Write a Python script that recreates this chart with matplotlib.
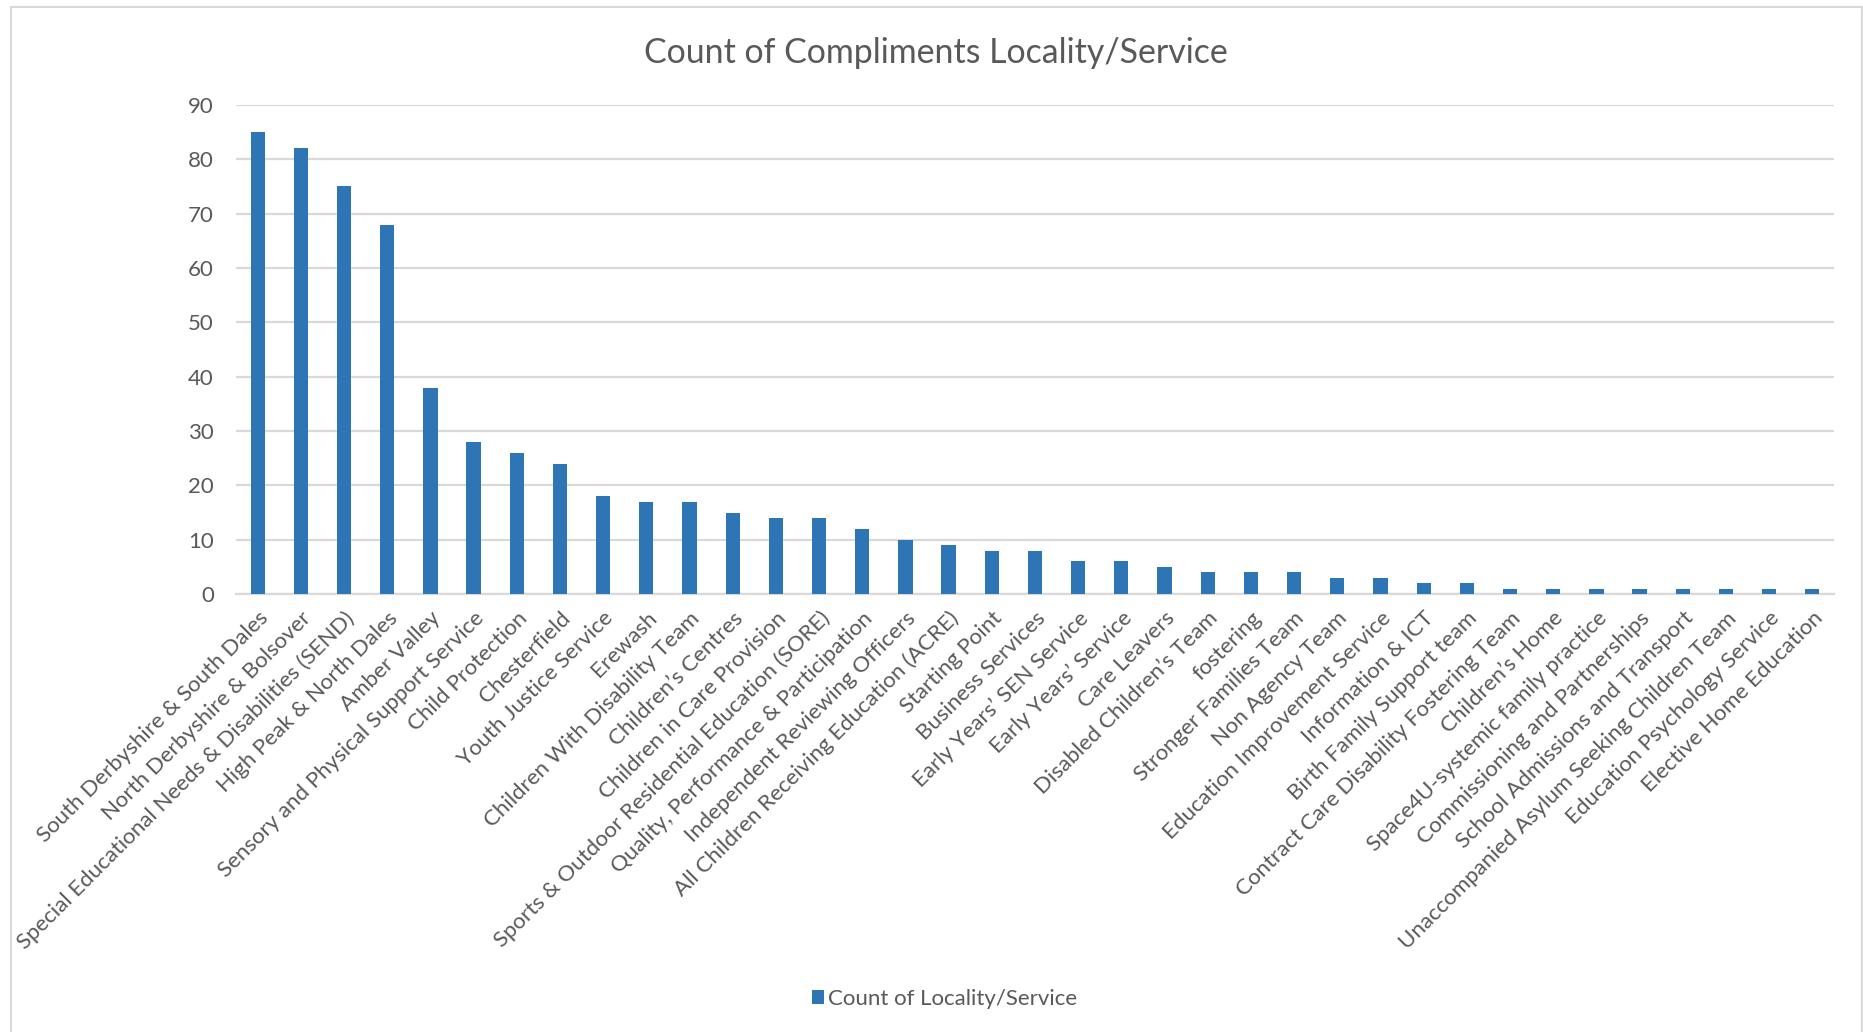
import matplotlib
matplotlib.use("Agg")
import matplotlib.pyplot as plt
from matplotlib.patches import Rectangle

# Compliment counts per locality / service
services = [
    "South Derbyshire & South Dales",
    "North Derbyshire & Bolsover",
    "Special Educational Needs & Disabilities (SEND)",
    "High Peak & North Dales",
    "Amber Valley",
    "Sensory and Physical Support Service",
    "Child Protection",
    "Chesterfield",
    "Youth Justice Service",
    "Erewash",
    "Children With Disability Team",
    "Children\u2019s Centres",
    "Children in Care Provision",
    "Sports & Outdoor Residential Education (SORE)",
    "Quality, Performance & Participation",
    "Independent Reviewing Officers",
    "All Children Receiving Education (ACRE)",
    "Starting Point",
    "Business Services",
    "Early Years\u2019 SEN Service",
    "Early Years\u2019 Service",
    "Care Leavers",
    "Disabled Children\u2019s Team",
    "fostering",
    "Stronger Families Team",
    "Non Agency Team",
    "Education Improvement Service",
    "Information & ICT",
    "Birth Family Support team",
    "Contract Care Disability Fostering Team",
    "Children\u2019s Home",
    "Space4U-systemic family practice",
    "Commissioning and Partnerships",
    "School Admissions and Transport",
    "Unaccompanied Asylum Seeking Children Team",
    "Education Psychology Service",
    "Elective Home Education",
]
counts = [85, 82, 75, 68, 38, 28, 26, 24, 18, 17, 17, 15, 14, 14, 12, 10, 9,
          8, 8, 6, 6, 5, 4, 4, 4, 3, 3, 2, 2, 1, 1, 1, 1, 1, 1, 1, 1]
yticks = list(range(0, 100, 10))

plt.rcParams['font.family'] = ['Lato', 'DejaVu Sans']
grey = '#595959'
bar_blue = '#2E75B6'
grid_grey = '#D9D9D9'

fig = plt.figure(figsize=(18.63, 10.32), dpi=100)
ax = fig.add_axes([0.1267, 0.4244, 0.8577, 0.4739])

x = range(len(services))
ax.bar(x, counts, width=0.33, color=bar_blue, label='Count of Locality/Service', zorder=3)

ax.set_xlim(-0.5, len(services) - 0.5)
ax.set_ylim(0, 90)
ax.set_yticks(yticks)
ax.set_yticklabels([str(v) for v in yticks], fontsize=16, color=grey)
ax.set_xticks(list(x))
ax.set_xticklabels(services, rotation=45, ha='right', va='top',
                   rotation_mode='anchor', fontsize=16, color=grey)
ax.tick_params(axis='both', length=0)
ax.tick_params(axis='y', pad=16)
ax.tick_params(axis='x', pad=10)

# horizontal gridlines only
ax.yaxis.grid(True, color=grid_grey, linewidth=1.6, zorder=0)
for s in ['top', 'right', 'left']:
    ax.spines[s].set_visible(False)
ax.spines['bottom'].set_color(grid_grey)
ax.spines['bottom'].set_linewidth(1.6)

fig.text(0.5025, 0.949, 'Count of Compliments Locality/Service', ha='center', va='center',
         fontsize=24.4, color=grey)

fig.legend(loc='center', bbox_to_anchor=(0.507, 0.032), frameon=False, fontsize=16,
           handlelength=0.55, handleheight=0.55, handletextpad=0.2, labelcolor=grey)

# light chart border
fig.patches.append(Rectangle((11 / 1863, -0.01), (1862 - 11) / 1863, 1.01 - 7 / 1032,
                             transform=fig.transFigure, fill=False,
                             edgecolor=grid_grey, linewidth=1.5))

fig.savefig('out.png', dpi=100, facecolor='white')
